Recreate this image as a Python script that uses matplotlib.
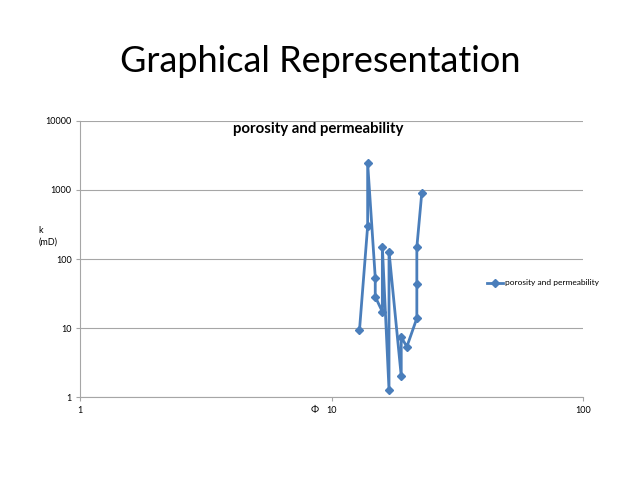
import matplotlib.pyplot as plt

phi = [12.9, 13.9, 13.9, 14.9, 14.9, 15.9, 15.9, 16.9, 16.9,
       18.9, 18.9, 19.9, 21.8, 21.8, 21.8, 22.8]
k = [9.4, 300, 2420, 54, 28.5, 17.3, 150, 1.28, 128,
     2.03, 7.4, 5.4, 13.9, 43, 148, 890]

plt.rcParams['font.family'] = ['Lato', 'DejaVu Sans']
blue = '#4a7ebb'
grid = '#a6a6a6'

fig = plt.figure(figsize=(6.38, 4.78), dpi=100)
fig.text(0.502, 0.872, "Graphical Representation", ha='center', va='center',
         fontsize=26, color='#000000')

ax = fig.add_axes([0.1254, 0.1688, 0.7889, 0.5787])
ax.plot(phi, k, color=blue, lw=2, marker='D', ms=3.8, label="porosity and permeability")
ax.set_xscale('log')
ax.set_yscale('log')
ax.set_xlim(1, 100)
ax.set_ylim(1, 10000)
ax.set_xticks([1, 10, 100])
ax.set_xticklabels(['1', '10', '100'])
ax.set_yticks([1, 10, 100, 1000, 10000])
ax.set_yticklabels(['1', '10', '100', '1000', '10000'])
ax.minorticks_off()
ax.tick_params(labelsize=6.5, length=3, color=grid, width=0.8, pad=3)
ax.yaxis.grid(True, color=grid, lw=0.8)
ax.set_axisbelow(True)
for s in ['top', 'right']:
    ax.spines[s].set_visible(False)
for s in ['left', 'bottom']:
    ax.spines[s].set_color(grid)
    ax.spines[s].set_linewidth(0.8)

ax.text(0.474, 0.97, "porosity and permeability", transform=ax.transAxes,
        ha='center', va='center', fontsize=10.8, fontweight='bold')
fig.text(0.493, 0.142, "\u03a6", ha='center', va='center', fontsize=7)
fig.text(0.06, 0.505, "k\n(mD)", ha='left', va='center', fontsize=6.5, linespacing=1.4)

fig.legend(loc='center left', bbox_to_anchor=(0.752, 0.408), frameon=False,
           fontsize=6, handlelength=1.9, handletextpad=0.25)

fig.savefig('out.png', dpi=100)
